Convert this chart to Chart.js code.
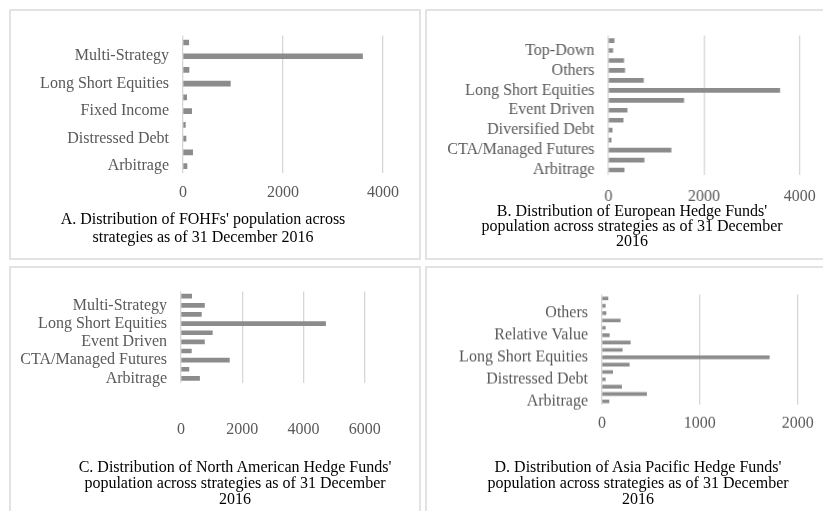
<!DOCTYPE html>
<html>
<head>
<meta charset="utf-8">
<script src="https://cdn.jsdelivr.net/npm/chart.js@4.4.0/dist/chart.umd.min.js"></script>
<style>
    html, body { margin: 0; padding: 0; background: #fff; }
    body {
        width: 823px; height: 511px; position: relative; overflow: hidden;
        font-family: "Liberation Serif", "Times New Roman", serif;
    }
    .panel { position: absolute; border: 2px solid #e3e3e3; box-sizing: border-box; }
    .plot { position: absolute; }
    .caption {
        position: absolute; width: 420px; text-align: center;
        font-size: 16px; color: #000; white-space: nowrap;
    }
</style>
</head>
<body>

<div class="panel" style="left:9px; top:9px; width:412px; height:251px;"></div>
<div class="panel" style="left:425px; top:9px; width:420px; height:251px;"></div>
<div class="panel" style="left:9px; top:266px; width:412px; height:260px;"></div>
<div class="panel" style="left:425px; top:266px; width:420px; height:260px;"></div>

<div class="plot" id="wrap-a"><canvas id="chart-a"></canvas></div>
<div class="plot" id="wrap-b"><canvas id="chart-b"></canvas></div>
<div class="plot" id="wrap-c"><canvas id="chart-c"></canvas></div>
<div class="plot" id="wrap-d"><canvas id="chart-d"></canvas></div>

<div class="caption" style="left:-7px; top:210px; line-height:18px;">A. Distribution of FOHFs' population across<br>strategies as of 31 December 2016</div>
<div class="caption" style="left:422px; top:203px; line-height:15px;">B. Distribution of European Hedge Funds'<br>population across strategies as of 31 December<br>2016</div>
<div class="caption" style="left:25px; top:459px; line-height:16px;">C. Distribution of North American Hedge Funds'<br>population across strategies as of 31 December<br>2016</div>
<div class="caption" style="left:428px; top:459px; line-height:16px;">D. Distribution of Asia Pacific Hedge Funds'<br>population across strategies as of 31 December<br>2016</div>

<script>
/* ===== Data (first category is drawn at the bottom, as in Excel) ===== */
var fohfCategories = ["Arbitrage", "CTA/Managed Futures", "Distressed Debt", "Event Driven",
    "Fixed Income", "Long Only", "Long Short Equities", "Macro", "Multi-Strategy", "Relative Value"];
var fohfValues = [80, 193, 60, 47, 173, 73, 947, 120, 3590, 115];

var euroCategories = ["Arbitrage", "Bottom-Up", "CTA/Managed Futures", "Distressed Debt",
    "Diversified Debt", "Dual Approach", "Event Driven", "Fixed Income", "Long Short Equities",
    "Macro", "Others", "Relative Value", "Top-Down", "Value"];
var euroValues = [328, 746, 1310, 56, 77, 307, 390, 1575, 3585, 732, 341, 320, 90, 118];

var naCategories = ["Arbitrage", "Bottom-Up", "CTA/Managed Futures", "Distressed Debt",
    "Event Driven", "Fixed Income", "Long Short Equities", "Macro", "Multi-Strategy", "Relative Value"];
var naValues = [606, 258, 1579, 338, 765, 1023, 4720, 665, 765, 348];

var apacCategories = ["Arbitrage", "Bottom-Up", "CTA/Managed Futures", "Distressed Debt",
    "Dual Approach", "Event Driven", "Long Short Equities", "Macro", "Multi-Strategy",
    "Relative Value", "Top-Down", "Value", "Others", "Fixed Income", "Diversified Debt"];
var apacValues = [71, 456, 200, 34, 109, 279, 1710, 207, 289, 75, 34, 187, 41, 34, 61];

var axisMax = [4000, 4000, 6000, 2000];
var axisStep = [2000, 2000, 2000, 1000];
var labelEvery = [2, 2, 2, 3];

/* ===== Layout: plot area of each panel, in page pixels ===== */
var Y_W = 172, PAD_T = 20, PAD_R = 34, X_H = 72;
var TICK_FONT = { family: "Liberation Serif", size: 16 };

function makeChart(id, cats, vals, idx, area, barPx, tickPad) {
    var wrap = document.getElementById("wrap-" + id);
    var w = (area.r - area.l) + Y_W + PAD_R;
    var h = (area.b - area.t) + PAD_T + X_H;
    wrap.style.left = (area.l - Y_W) + "px";
    wrap.style.top = (area.t - PAD_T) + "px";
    wrap.style.width = w + "px";
    wrap.style.height = h + "px";

    var step = labelEvery[idx];

    return new Chart(document.getElementById("chart-" + id), {
        type: "bar",
        data: {
            labels: cats,
            datasets: [{
                data: vals,
                backgroundColor: "#8c8c8c",
                barThickness: barPx
            }]
        },
        options: {
            indexAxis: "y",
            responsive: true,
            maintainAspectRatio: false,
            animation: false,
            layout: { padding: { top: PAD_T, right: PAD_R, left: 0, bottom: 0 } },
            plugins: { legend: { display: false }, tooltip: { enabled: false } },
            scales: {
                x: {
                    min: 0,
                    max: axisMax[idx],
                    ticks: {
                        stepSize: axisStep[idx],
                        color: "#595959",
                        padding: tickPad,
                        font: TICK_FONT,
                        callback: function (val) { return String(val); }
                    },
                    grid: { color: "#d6d6d6", lineWidth: 1.3, drawTicks: false },
                    border: { display: false },
                    afterFit: function (scale) { scale.height = X_H; }
                },
                y: {
                    reverse: true,
                    ticks: {
                        autoSkip: false,
                        color: "#595959",
                        padding: 14,
                        font: TICK_FONT,
                        callback: function (val, i) {
                            return i % step === 0 ? this.getLabelForValue(val) : "";
                        }
                    },
                    grid: { display: false, drawTicks: false },
                    border: { display: false },
                    afterFit: function (scale) { scale.width = Y_W; }
                }
            }
        }
    });
}

makeChart("a", fohfCategories, fohfValues, 0, { l: 182.7, r: 382.7, t: 32, b: 173 }, 5, 10);
makeChart("b", euroCategories, euroValues, 1, { l: 608, r: 798.7, t: 32, b: 175 }, 4, 12);
makeChart("c", naCategories, naValues, 2, { l: 180.5, r: 383.3, t: 288, b: 383 }, 4, 37);
makeChart("d", apacCategories, apacValues, 3, { l: 601.8, r: 797.5, t: 291.3, b: 404.7 }, 3, 9);
</script>
</body>
</html>
